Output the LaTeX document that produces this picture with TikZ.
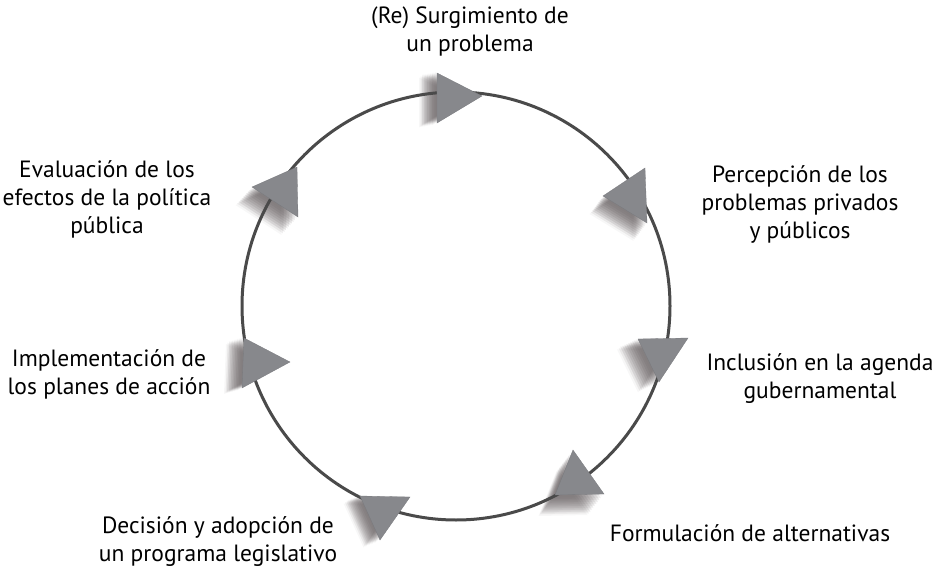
\documentclass[tikz,border=0pt]{standalone}
\usepackage{fontspec}
\setmainfont{PT Sans}
\definecolor{ringc}{HTML}{4A4A4A}
\definecolor{tric}{HTML}{87888C}
\definecolor{shc}{HTML}{4E4648}
\tikzset{
  ring/.style={draw=ringc, line width=3pt},
  tri/.style={fill=tric, draw=tric!90!black, line width=0.3pt, line join=miter},
  lbl/.style={align=center, inner sep=0pt, font=\fontsize{23.5}{28}\selectfont, text=black},
}
\newcommand\shtri[5]{%
  \foreach \k in {0.3,0.45,...,1.5}{%
    \foreach \j in {-1.5,0,1.5}{%
      \fill[shc, opacity=0.045, shift={({#4*\k+\j},{#5*\k-\j})}] #1 -- #2 -- #3 -- cycle;}}%
}
\begin{document}
\begin{tikzpicture}[x=1pt,y=-1pt]
\useasboundingbox (0,0) rectangle (942,578);
% shadows
\shtri{(437,73)}{(437,123)}{(482,96)}{-11}{2}
\shtri{(645,168)}{(647,223)}{(603,196)}{-8}{11}
\shtri{(638,339)}{(688,338)}{(659,382)}{-13}{6}
\shtri{(573,450)}{(604,494)}{(555,495)}{-10}{13}
\shtri{(360,496)}{(410,497)}{(380,540)}{-10}{4}
\shtri{(244,338)}{(242,388)}{(290,362)}{-11}{3}
\shtri{(297,167)}{(298,217)}{(252,187)}{-10}{11}
% ring
\draw[ring] (456,306) circle[radius=214];
% triangles
\fill[tri] (437,73) -- (437,123) -- (482,96) -- cycle;
\fill[tri] (645,168) -- (647,223) -- (603,196) -- cycle;
\fill[tri] (638,339) -- (688,338) -- (659,382) -- cycle;
\fill[tri] (573,450) -- (604,494) -- (555,495) -- cycle;
\fill[tri] (360,496) -- (410,497) -- (380,540) -- cycle;
\fill[tri] (244,338) -- (242,388) -- (290,362) -- cycle;
\fill[tri] (297,167) -- (298,217) -- (252,187) -- cycle;
% labels
\node[lbl] (surg) at (470,31) {(Re) Surgimiento de\\un problema};
\node[lbl] (perc) at (800,204) {Percepción de los\\problemas privados\\y públicos};
\node[lbl] (incl) at (820,379) {Inclusión en la agenda\\gubernamental};
\node[lbl] (form) at (750,533) {Formulación de alternativas};
\node[lbl] (deci) at (218,542) {Decisión y adopción de\\un programa legislativo};
\node[lbl] (impl) at (109,374) {Implementación de\\los planes de acción};
\node[lbl] (eval) at (107,199) {Evaluación de los\\efectos de la política\\pública};
\end{tikzpicture}
\end{document}
